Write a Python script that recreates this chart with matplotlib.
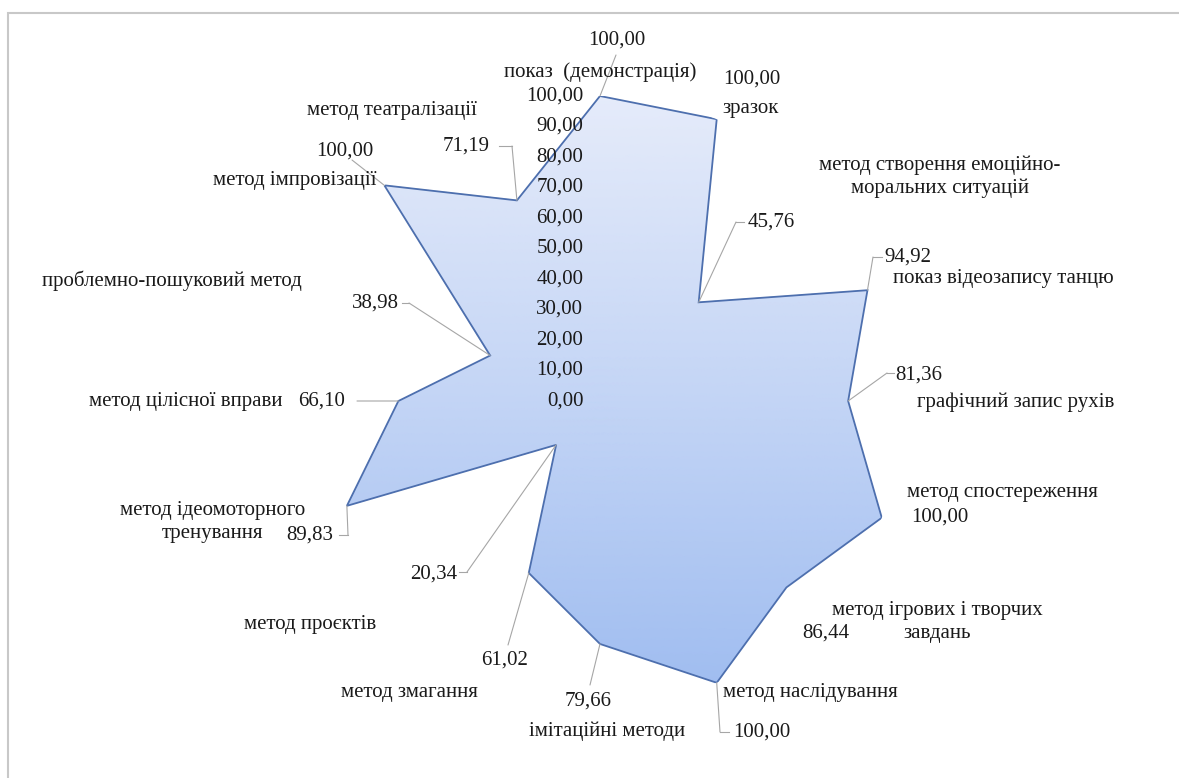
import numpy as np
import matplotlib
matplotlib.use("Agg")
import matplotlib.pyplot as plt
from matplotlib.colors import LinearSegmentedColormap
from matplotlib.patches import Rectangle

plt.rcParams['font.family'] = ['Liberation Serif', 'DejaVu Serif']

categories = [
    "показ  (демонстрація)",
    "зразок",
    "метод створення емоційно-\nморальних ситуацій",
    "показ відеозапису танцю",
    "графічний запис рухів",
    "метод спостереження",
    "метод ігрових і творчих\nзавдань",
    "метод наслідування",
    "імітаційні методи",
    "метод змагання",
    "метод проєктів",
    "метод ідеомоторного\nтренування",
    "метод цілісної вправи",
    "проблемно-пошуковий метод",
    "метод імпровізації",
    "метод театралізації",
]
values = [100.00, 100.00, 45.76, 94.92, 81.36, 100.00, 86.44, 100.00,
          79.66, 61.02, 20.34, 89.83, 66.10, 38.98, 100.00, 71.19]
r_ticks = np.arange(0, 101, 10)

W, H = 1179, 778
CX, CY, R = 600, 401, 305   # plot centre and radius, px from top-left
LINE_STEP = 23              # px between lines of a wrapped label

# label placement (px from top-left), category names and value labels
cat_pos = [(600, 72), (751, 109), (940, 177), (1003, 278), (1016, 402),
           (1002, 493), (937, 622), (810, 692), (607, 731), (409, 692),
           (310, 624), (213, 522), (186, 401), (172, 281), (295, 181),
           (392, 111)]
val_pos = [(617, 40), (752, 79), (771, 222), (908, 257), (919, 375),
           (940, 517), (826, 633), (762, 732), (588, 701), (505, 660),
           (434, 574), (310, 535), (322, 401), (375, 303), (345, 151),
           (466, 146)]
# leader lines: (anchor x, anchor y, tick end x) or None
leaders = [(616, 55, 616), None, (736, 222, 744), (873, 257, 882),
           (887, 373, 894), None, None, (720, 732, 729), (590, 685, 590),
           (508, 645, 508), (467, 572, 459), (348, 535, 339),
           (357, 401, 357), (409, 303, 402), (352, 160, 352),
           (512, 146, 499)]

text_color = '#1a1a1a'
lead_color = '#a6a6a6'
fs = 15

fig = plt.figure(figsize=(W / 100, H / 100), dpi=100)
ax = fig.add_axes([(CX - R) / W, (H - CY - R) / H, 2 * R / W, 2 * R / H],
                  projection='polar')
ax.set_theta_zero_location('N')
ax.set_theta_direction(-1)
ax.set_ylim(0, 100)
ax.grid(False)
ax.set_xticks([])
ax.set_yticks([])
ax.spines['polar'].set_visible(False)
ax.patch.set_alpha(0)

theta = np.deg2rad(np.arange(len(values)) * 360 / len(values))
th_c = np.append(theta, theta[0])
v_c = np.append(values, values[0])

poly = ax.fill(th_c, v_c, facecolor='none', edgecolor='#4d6fae',
               lw=1.3, zorder=3)[0]

# vertical gradient fill clipped to the polygon
cmap = LinearSegmentedColormap.from_list('fillgrad', ['#a0bdf0', '#c4d5f5', '#e5ebfa'])
tg = np.linspace(0, 2 * np.pi, 361)
rg = np.linspace(0, 100, 101)
T, RR = np.meshgrid(tg, rg)
mesh = ax.pcolormesh(T, RR, RR * np.cos(T), shading='gouraud', cmap=cmap,
                     vmin=-93, vmax=100, zorder=2)
mesh.set_clip_path(poly)

# radial scale labels
for t in r_ticks:
    ax.annotate(f"{t:.2f}".replace('.', ','), xy=(0, t), xytext=(-12, 0),
                textcoords='offset points', ha='right', va='center',
                fontsize=fs, color=text_color, zorder=5)

for i, (name, v) in enumerate(zip(categories, values)):
    x, y = cat_pos[i]
    lines = name.split('\n')
    for j, line in enumerate(lines):
        ly = y + (j - (len(lines) - 1) / 2) * LINE_STEP
        fig.text(x / W, 1 - ly / H, line, ha='center', va='center',
                 fontsize=fs, color=text_color)
    x, y = val_pos[i]
    fig.text(x / W, 1 - y / H, f"{v:.2f}".replace('.', ','), ha='center',
             va='center', fontsize=fs, color=text_color)
    if leaders[i] is not None:
        ax_, ay_, tx_ = leaders[i]
        ax.annotate('', xy=(theta[i], v), xycoords='data',
                    xytext=(ax_, H - ay_), textcoords='figure pixels',
                    arrowprops=dict(arrowstyle='-', color=lead_color, lw=0.8,
                                    shrinkA=0, shrinkB=0), zorder=4)
        if tx_ != ax_:
            fig.add_artist(plt.Line2D([ax_ / W, tx_ / W], [1 - ay_ / H, 1 - ay_ / H],
                                      transform=fig.transFigure,
                                      color=lead_color, lw=0.8))

# chart area border
fig.add_artist(Rectangle((8 / W, -0.05), 1.0, (H - 13) / H + 0.05,
                         transform=fig.transFigure, fill=False,
                         edgecolor='#c8c8c8', lw=1.5))

fig.savefig('out.png', dpi=100)
